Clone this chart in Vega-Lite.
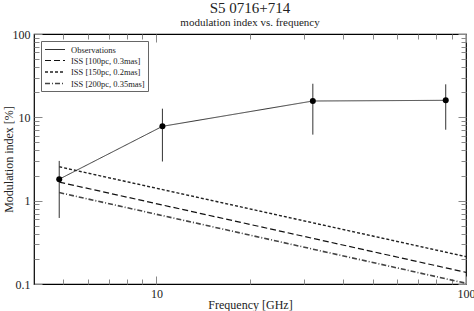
{
  "$schema": "https://vega.github.io/schema/vega-lite/v6.json",
  "autosize": {"type": "none"},
  "width": 432,
  "height": 250,
  "padding": {"left": 34, "top": 34, "right": 8, "bottom": 27},
  "background": "white",
  "config": {
    "font": "Liberation Serif",
    "view": {"stroke": "black", "strokeWidth": 1.2},
    "axis": {"grid": false, "labelFont": "Liberation Serif", "titleFont": "Liberation Serif", "labelFontSize": 12, "titleFontSize": 12, "titleFontWeight": "normal", "labelColor": "#222", "titleColor": "#222"},
    "legend": {"labelFont": "Liberation Serif"}
  },
  "title": {
    "text": "S5 0716+714",
    "subtitle": "modulation index vs. frequency",
    "font": "Liberation Serif",
    "subtitleFont": "Liberation Serif",
    "fontSize": 15,
    "subtitleFontSize": 11,
    "fontWeight": "normal",
    "color": "#222",
    "subtitleColor": "#222",
    "anchor": "middle",
    "offset": 0,
    "subtitlePadding": 1
  },
  "datasets": {
    "lines": [
      {"series": "Observations", "freq": 4.85, "m": 1.81},
      {"series": "Observations", "freq": 10.45, "m": 7.8},
      {"series": "Observations", "freq": 32, "m": 15.7},
      {"series": "Observations", "freq": 86, "m": 16.0},
      {"series": "ISS [100pc, 0.3mas]", "freq": 4.85, "m": 1.67},
      {"series": "ISS [100pc, 0.3mas]", "freq": 100, "m": 0.138},
      {"series": "ISS [150pc, 0.2mas]", "freq": 4.85, "m": 2.55},
      {"series": "ISS [150pc, 0.2mas]", "freq": 100, "m": 0.213},
      {"series": "ISS [200pc, 0.35mas]", "freq": 4.85, "m": 1.25},
      {"series": "ISS [200pc, 0.35mas]", "freq": 100, "m": 0.102}
    ],
    "obs": [
      {"freq": 4.85, "m": 1.81, "lo": 0.62, "hi": 3.0},
      {"freq": 10.45, "m": 7.8, "lo": 2.95, "hi": 12.7},
      {"freq": 32, "m": 15.7, "lo": 6.2, "hi": 25.3},
      {"freq": 86, "m": 16.0, "lo": 7.1, "hi": 24.9}
    ]
  },
  "resolve": {"axis": {"x": "independent", "y": "independent"}},
  "layer": [
    {
      "data": {"name": "lines"},
      "transform": [{"filter": "datum.series != 'Observations'"}],
      "mark": {"type": "line"},
      "encoding": {
        "x": {
          "field": "freq", "type": "quantitative",
          "scale": {"type": "log", "domain": [4.02, 100], "nice": false},
          "axis": {
            "orient": "bottom",
            "title": "Frequency [GHz]",
            "titlePadding": 0,
            "domain": false,
            "offset": -5,
            "values": [5,6,7,8,9,10,20,30,40,50,60,70,80,90,100],
            "format": "~g",
            "labelExpr": "(datum.value == 10 || datum.value == 100) ? datum.label : ''",
            "labelFlush": false,
            "labelOverlap": false,
            "labelPadding": 4
          }
        },
        "y": {
          "field": "m", "type": "quantitative",
          "scale": {"type": "log", "domain": [0.1, 100], "nice": false},
          "axis": {
            "orient": "left",
            "title": "Modulation index [%]",
            "titlePadding": -3,
            "domain": false,
            "offset": -5,
            "values": [0.1,0.2,0.3,0.4,0.5,0.6,0.7,0.8,0.9,1,2,3,4,5,6,7,8,9,10,20,30,40,50,60,70,80,90,100],
            "format": "~g",
            "labelExpr": "(datum.value == 0.1 || datum.value == 1 || datum.value == 10 || datum.value == 100) ? datum.label : ''",
            "labelFlush": false,
            "labelOverlap": false,
            "labelPadding": 4
          }
        },
        "color": {
          "field": "series", "type": "nominal",
          "scale": {"domain": ["Observations", "ISS [100pc, 0.3mas]", "ISS [150pc, 0.2mas]", "ISS [200pc, 0.35mas]"], "range": ["#333333", "#111111", "#222222", "#444444"]},
          "legend": {
            "title": null,
            "orient": "top-left",
            "offset": 7,
            "padding": 3,
            "strokeColor": "#666",
            "fillColor": "white",
            "symbolType": "M-1,0L3,0",
            "symbolSize": 100,
            "labelFontSize": 8.5,
            "labelColor": "#222",
            "rowPadding": 0.5,
            "labelOffset": 15
          }
        },
        "strokeDash": {
          "field": "series", "type": "nominal",
          "scale": {"domain": ["Observations", "ISS [100pc, 0.3mas]", "ISS [150pc, 0.2mas]", "ISS [200pc, 0.35mas]"], "range": [[1, 0], [6, 3], [3, 2], [5, 2, 1, 2]]},
          "legend": {"title": null}
        },
        "strokeWidth": {
          "field": "series", "type": "nominal",
          "scale": {"domain": ["Observations", "ISS [100pc, 0.3mas]", "ISS [150pc, 0.2mas]", "ISS [200pc, 0.35mas]"], "range": [1, 1.6, 1, 0.9]},
          "legend": {"title": null}
        }
      }
    },
    {
      "data": {"name": "lines"},
      "transform": [{"filter": "datum.series == 'Observations'"}],
      "mark": {"type": "line"},
      "encoding": {
        "x": {
          "field": "freq", "type": "quantitative",
          "axis": {"orient": "top", "title": null, "labels": false, "domain": false, "values": [5,6,7,8,9,10,20,30,40,50,60,70,80,90,100], "offset": -5}
        },
        "y": {
          "field": "m", "type": "quantitative",
          "axis": {"orient": "right", "title": null, "labels": false, "domain": false, "values": [0.1,0.2,0.3,0.4,0.5,0.6,0.7,0.8,0.9,1,2,3,4,5,6,7,8,9,10,20,30,40,50,60,70,80,90,100], "offset": -5}
        },
        "color": {"field": "series", "type": "nominal"},
        "strokeDash": {"field": "series", "type": "nominal"},
        "strokeWidth": {"field": "series", "type": "nominal"}
      }
    },
    {
      "data": {"name": "obs"},
      "mark": {"type": "rule", "color": "#333", "strokeWidth": 1},
      "encoding": {
        "x": {
          "field": "freq", "type": "quantitative",
          "axis": {"orient": "bottom", "title": null, "labels": false, "domain": false, "values": [10, 100], "offset": -8}
        },
        "y": {
          "field": "lo", "type": "quantitative",
          "axis": {"orient": "left", "title": null, "labels": false, "domain": false, "values": [0.1, 1, 10, 100], "offset": -8}
        },
        "y2": {"field": "hi"}
      }
    },
    {
      "data": {"name": "obs"},
      "mark": {"type": "point", "filled": true, "color": "black", "opacity": 1, "size": 36},
      "encoding": {
        "x": {
          "field": "freq", "type": "quantitative",
          "axis": {"orient": "top", "title": null, "labels": false, "domain": false, "values": [10, 100], "offset": -8}
        },
        "y": {
          "field": "m", "type": "quantitative",
          "axis": {"orient": "right", "title": null, "labels": false, "domain": false, "values": [0.1, 1, 10, 100], "offset": -8}
        }
      }
    }
  ]
}
